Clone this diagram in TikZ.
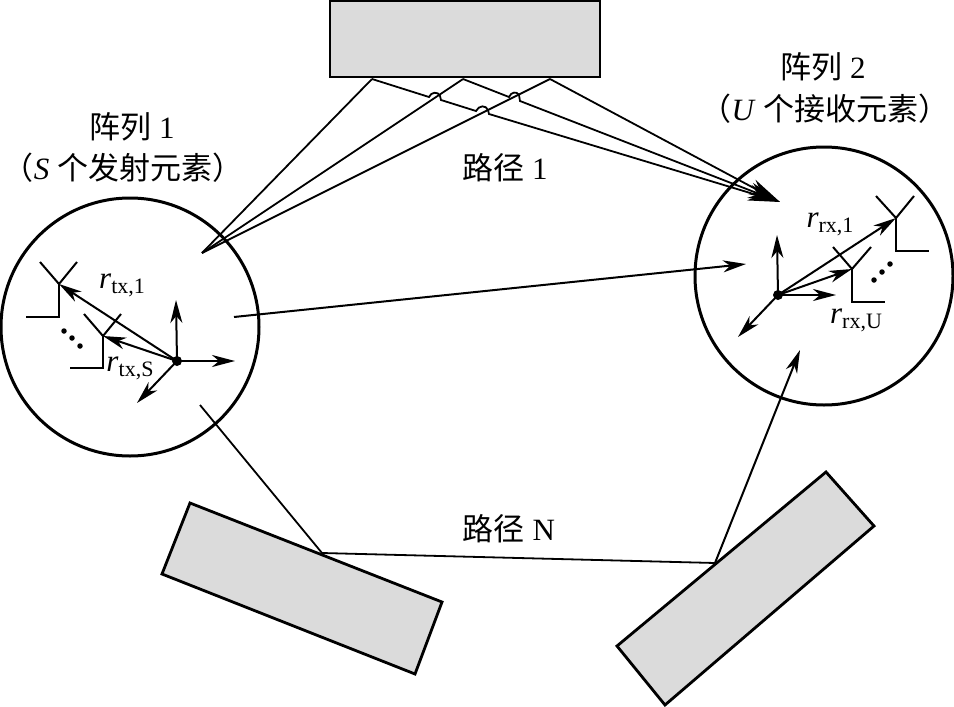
\documentclass[tikz,border=0pt]{standalone}
\usepackage{fontspec}
\setmainfont{Liberation Serif}
\newfontfamily\cjk{Noto Sans CJK SC}
\usetikzlibrary{arrows.meta}
\tikzset{
  block/.style={draw=black,line width=2.8pt,fill=black!14,line join=miter},
  array/.style={draw=black,line width=3pt},
  ray/.style={draw=black,line width=1.8pt},
  vec/.style={draw=black,line width=2pt,-{Stealth[length=23pt,width=12pt,inset=7pt]}},
  bigvec/.style={draw=black,line width=1.8pt,-{Stealth[length=32pt,width=16pt,inset=10pt]}},
  ant/.style={draw=black,line width=2pt},
  txt/.style={inner sep=0pt,font=\fontsize{31}{34}\selectfont},
  sym/.style={inner sep=0pt,font=\fontsize{31}{32}\selectfont},
  dotm/.style={circle,fill=black,inner sep=0pt,minimum size=5.5pt}
}
\newcommand{\rsub}[1]{\textit{r}\raisebox{-0.35ex}{\fontsize{22}{23}\selectfont #1}}
\begin{document}
\begin{tikzpicture}[x=1pt,y=-1pt]
\useasboundingbox (0,0) rectangle (954,707);
% reflectors
\draw[block] (330,1) rectangle (600,77);
\draw[block] (190,503) -- (442,602) -- (415,674) -- (162,574) -- cycle;
\draw[block] (826,472) -- (874,526) -- (665,705) -- (617,646) -- cycle;
% arrays
\node[array,circle,minimum size=258pt,inner sep=0pt] (arrA) at (130,327) {};
\node[array,circle,minimum size=258pt,inner sep=0pt] (arrB) at (824,276) {};
% coordinates
\coordinate (txp) at (202,253);
\coordinate (rxp) at (780,202);
\coordinate (s1) at (372,79);
\coordinate (s2) at (463,79);
\coordinate (s3) at (550,79);
% rays to array 1
\draw[ray] (s1) -- (txp);
\draw[ray] (s2) -- (txp);
\draw[ray] (s3) -- (txp);
% rays to array 2 with jumps
\draw[bigvec] (s1) -- (429,97) .. controls (431,92) and (438,91) .. (440,96) -- (441,100) -- (476,111) .. controls (479,105) and (486,105) .. (488,110) -- (489,114) -- (rxp);
\draw[bigvec] (s2) -- (509,97) .. controls (511,92) and (517,91) .. (519,95) -- (520,101) -- (rxp);
\draw[bigvec] (s3) -- (rxp);
% direct path
\coordinate (d1) at (234,317);
\coordinate (d2) at (746,264);
\draw[vec] (d1) -- (d2);
% path N
\coordinate (n0) at (200,405);
\coordinate (n1) at (322,553);
\coordinate (n2) at (715,563);
\coordinate (n3) at (800,350);
\draw[ray] (n0) -- (n1) -- (n2);
\draw[vec] (n2) -- (n3);
% left coordinate frame
\node[circle,fill=black,inner sep=0pt,minimum size=10pt] (oA) at (177,361) {};
\coordinate (ax1) at (176,300);
\coordinate (ax2) at (235,361);
\coordinate (ax3) at (137,403);
\draw[vec] (oA.center) -- (ax1);
\draw[vec] (oA.center) -- (ax2);
\draw[vec] (oA.center) -- (ax3);
\coordinate (fA1) at (59,284);
\coordinate (fAS) at (103,336);
\draw[vec] (oA.center) -- (fA1);
\draw[vec] (oA.center) -- (fAS);
\draw[ant] (40,262) -- (fA1) -- (77,262);
\draw[ant] (fA1) -- (59,317) -- (26,317);
\draw[ant] (84,314) -- (fAS) -- (121,314);
\draw[ant] (fAS) -- (103,368) -- (70,368);
\node[dotm] (da1) at (64,331) {};
\node[dotm] (da2) at (72,338) {};
\node[dotm] (da3) at (80,346) {};
% right coordinate frame
\node[circle,fill=black,inner sep=0pt,minimum size=10pt] (oB) at (778,295) {};
\coordinate (bx1) at (777,235);
\coordinate (bx2) at (836,295);
\coordinate (bx3) at (738,337);
\draw[vec] (oB.center) -- (bx1);
\draw[vec] (oB.center) -- (bx2);
\draw[vec] (oB.center) -- (bx3);
\coordinate (fB1) at (896,218);
\coordinate (fBU) at (852,269);
\draw[vec] (oB.center) -- (fB1);
\draw[vec] (oB.center) -- (fBU);
\draw[ant] (876,196) -- (fB1) -- (914,196);
\draw[ant] (fB1) -- (896,251) -- (929,251);
\draw[ant] (833,247) -- (fBU) -- (871,247);
\draw[ant] (fBU) -- (852,302) -- (885,302);
\node[dotm] (db1) at (874,280) {};
\node[dotm] (db2) at (882,272) {};
\node[dotm] (db3) at (890,264) {};
% labels
\node[txt] (t1) at (132,127) {{\cjk 阵列} 1};
\node[txt] (t2) at (123,168) {{\cjk （}\textit{S} {\cjk 个发射元素）}};
\node[txt] (t3) at (505,168) {{\cjk 路径} 1};
\node[txt] (t4) at (509,529) {{\cjk 路径} N};
\node[txt] (t5) at (823,67) {{\cjk 阵列} 2};
\node[txt] (t6) at (825,109) {{\cjk （}\textit{U} {\cjk 个接收元素）}};
\node[sym] (l1) at (122,285) {\rsub{tx,1}};
\node[sym] (l2) at (130,368) {\rsub{tx,S}};
\node[sym] (l3) at (830,224) {\rsub{rx,1}};
\node[sym] (l4) at (856,320) {\rsub{rx,U}};
\end{tikzpicture}
\end{document}
